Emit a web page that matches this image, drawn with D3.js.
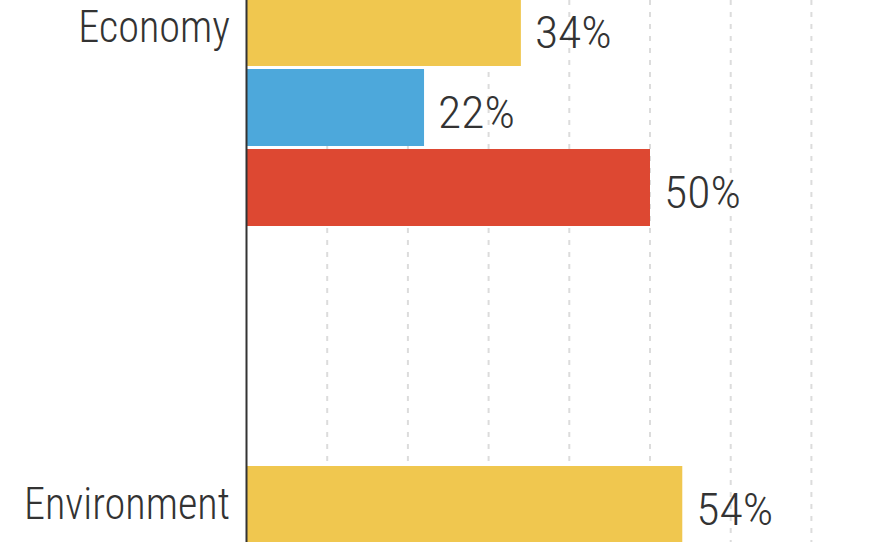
<!DOCTYPE html>
<html>
<head>
<meta charset="utf-8">
<script src="https://cdn.jsdelivr.net/npm/d3@7"></script>
<style>
  html, body { margin: 0; padding: 0; background: #fff; overflow: hidden; }
  svg { display: block; }
</style>
</head>
<body>
<svg id="chart"></svg>
<script>
// categories and series (only the part visible in the crop)
const categories = ["Economy", "Environment"];
const seriesKeys = ["first", "second", "third"];
const economyValues = [34, 22, 50];
const environmentValues = [54, null, null];
const gridTicks = [10, 20, 30, 40, 50, 60, 70];

const seriesColors = ["#f0c74f", "#4da8db", "#dd4832"];

const width = 880, height = 542;

const rows = [];
categories.forEach((c, ci) => {
    const vals = ci === 0 ? economyValues : environmentValues;
    seriesKeys.forEach((k, i) => {
        if (vals[i] != null) rows.push({category: c, key: k, value: vals[i]});
    });
});

const svg = d3.select("#chart")
    .attr("width", width)
    .attr("height", height)
    .style("font-family", "'Roboto Condensed', 'Liberation Sans Narrow', sans-serif")
    .style("font-weight", 300);

// x: percent -> pixels, zero sits on the axis line
const x = d3.scaleLinear()
    .domain([0, 70])
    .range([246.5, 811.4]);

// outer band: groups, top of the first group is cropped off
const y0 = d3.scaleBand()
    .domain(categories)
    .range([-11, 703])
    .paddingInner(240 / 477)
    .paddingOuter(0);

const y1 = d3.scaleBand()
    .domain(seriesKeys)
    .range([0, y0.bandwidth()])
    .paddingInner(0.0375);

const color = d3.scaleOrdinal().domain(seriesKeys).range(seriesColors);

// dashed gridlines
svg.append("g")
    .selectAll("line")
    .data(gridTicks)
    .join("line")
    .attr("x1", d => x(d))
    .attr("x2", d => x(d))
    .attr("y1", 0)
    .attr("y2", height)
    .attr("stroke", "#dcdcdc")
    .attr("stroke-width", 2)
    .attr("stroke-dasharray", "5,7");

// bars
svg.append("g")
    .selectAll("rect")
    .data(rows)
    .join("rect")
    .attr("x", x(0))
    .attr("y", d => y0(d.category) + y1(d.key))
    .attr("width", d => x(d.value) - x(0))
    .attr("height", y1.bandwidth())
    .attr("fill", d => color(d.key));

// value labels (font is squeezed / stretched a bit to match the original face)
svg.append("g")
    .selectAll("g")
    .data(rows)
    .join("g")
    .attr("transform", d => `translate(${x(d.value) + 14},${y0(d.category) + y1(d.key) + y1.bandwidth() / 2 + 5}) scale(1.06,1)`)
    .append("text")
    .attr("dy", "0.35em")
    .attr("fill", "#333")
    .style("font-size", "45px")
    .text(d => d.value + "%");

// category labels, centred on the first bar of each group
svg.append("g")
    .selectAll("g")
    .data(categories)
    .join("g")
    .attr("transform", d => `translate(230,${y0(d) + y1(seriesKeys[0]) + y1.bandwidth() / 2 - 1}) scale(0.94,1)`)
    .append("text")
    .attr("dy", "0.35em")
    .attr("text-anchor", "end")
    .attr("fill", "#333")
    .style("font-size", "45px")
    .text(d => d);

// axis line
svg.append("line")
    .attr("x1", x(0))
    .attr("x2", x(0))
    .attr("y1", 0)
    .attr("y2", height)
    .attr("stroke", "#333")
    .attr("stroke-width", 2);
</script>
</body>
</html>
